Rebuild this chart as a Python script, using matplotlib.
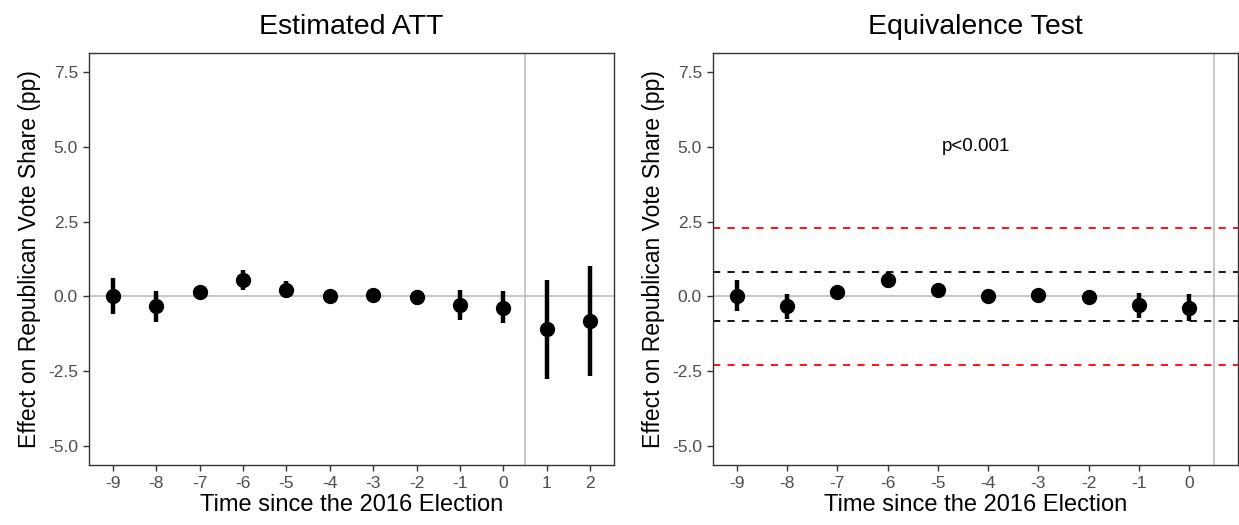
import matplotlib
matplotlib.use("Agg")
import matplotlib.pyplot as plt
import numpy as np

plt.rcParams['font.family'] = ['Liberation Sans', 'DejaVu Sans']

# Left panel: estimated ATT
att_time = [-9, -8, -7, -6, -5, -4, -3, -2, -1, 0, 1, 2]
att_est = [0.03, -0.33, 0.14, 0.55, 0.23, 0.00, 0.06, -0.03, -0.30, -0.37, -1.10, -0.82]
att_lo = [-0.57, -0.84, 0.04, 0.22, -0.04, -0.10, -0.04, -0.29, -0.80, -0.89, -2.76, -2.67]
att_hi = [0.62, 0.18, 0.24, 0.88, 0.51, 0.10, 0.16, 0.23, 0.21, 0.18, 0.55, 1.02]

# Right panel: equivalence test (pre-treatment only)
eq_time = [-9, -8, -7, -6, -5, -4, -3, -2, -1, 0]
eq_est = [0.03, -0.33, 0.14, 0.55, 0.23, 0.00, 0.06, -0.03, -0.30, -0.37]
eq_lo = [-0.47, -0.75, 0.06, 0.28, 0.13, -0.08, -0.02, -0.13, -0.71, -0.83]
eq_hi = [0.54, 0.09, 0.22, 0.82, 0.33, 0.08, 0.14, 0.07, 0.12, 0.08]

equiv_bound = 0.83
tost_bound = 2.3
p_label = "p<0.001"

y_ticks = [-5.0, -2.5, 0.0, 2.5, 5.0, 7.5]
y_ticklabels = ["-5.0", "-2.5", "0.0", "2.5", "5.0", "7.5"]

fig = plt.figure(figsize=(12.39, 5.25), dpi=100)
ax1 = fig.add_axes([89/1239, 1-465/525, (614-89)/1239, (465-53)/525])
ax2 = fig.add_axes([713/1239, 1-465/525, (1238-713)/1239, (465-53)/525])

border = '#333333'
tickcol = '#4D4D4D'
refcol = '#BEBEBE'

def style(ax, xt, title):
    ax.set_ylim(-5.625, 8.125)
    ax.set_yticks(y_ticks)
    ax.set_yticklabels(y_ticklabels)
    ax.set_xticks(xt)
    ax.set_xticklabels([str(t) for t in xt])
    for s in ax.spines.values():
        s.set_color(border)
        s.set_linewidth(1.0)
    ax.tick_params(axis='both', colors=border, labelcolor=tickcol, labelsize=12.5, length=4.5, width=1.0, pad=3.5)
    ax.set_xlabel("Time since the 2016 Election", fontsize=17, labelpad=2)
    ax.set_ylabel("Effect on Republican Vote Share (pp)", fontsize=16.5, labelpad=5)
    ax.set_title(title, fontsize=20.5, pad=14)
    ax.axhline(0, color=refcol, lw=1.2, zorder=1)
    ax.axvline(0.5, color=refcol, lw=1.2, zorder=1)

def draw(ax, t, est, lo, hi):
    t = np.array(t); est = np.array(est)
    ax.vlines(t, lo, hi, color='black', lw=3.2, zorder=3)
    ax.plot(t, est, 'o', color='black', ms=10, zorder=4)

style(ax1, att_time, "Estimated ATT")
ax1.set_xlim(-9.55, 2.55)
draw(ax1, att_time, att_est, att_lo, att_hi)

style(ax2, eq_time, "Equivalence Test")
ax2.set_xlim(-9.475, 0.975)
for b, c in [(tost_bound, '#FF0000'), (-tost_bound, '#FF0000'), (equiv_bound, 'black'), (-equiv_bound, 'black')]:
    ax2.axhline(b, color=c, lw=1.3, ls=(0, (4, 4)), zorder=2)
draw(ax2, eq_time, eq_est, eq_lo, eq_hi)
ax2.text(-4.25, 5.0, p_label, ha='center', va='center', fontsize=13.5, color='black')

fig.savefig("out.png", dpi=100)
